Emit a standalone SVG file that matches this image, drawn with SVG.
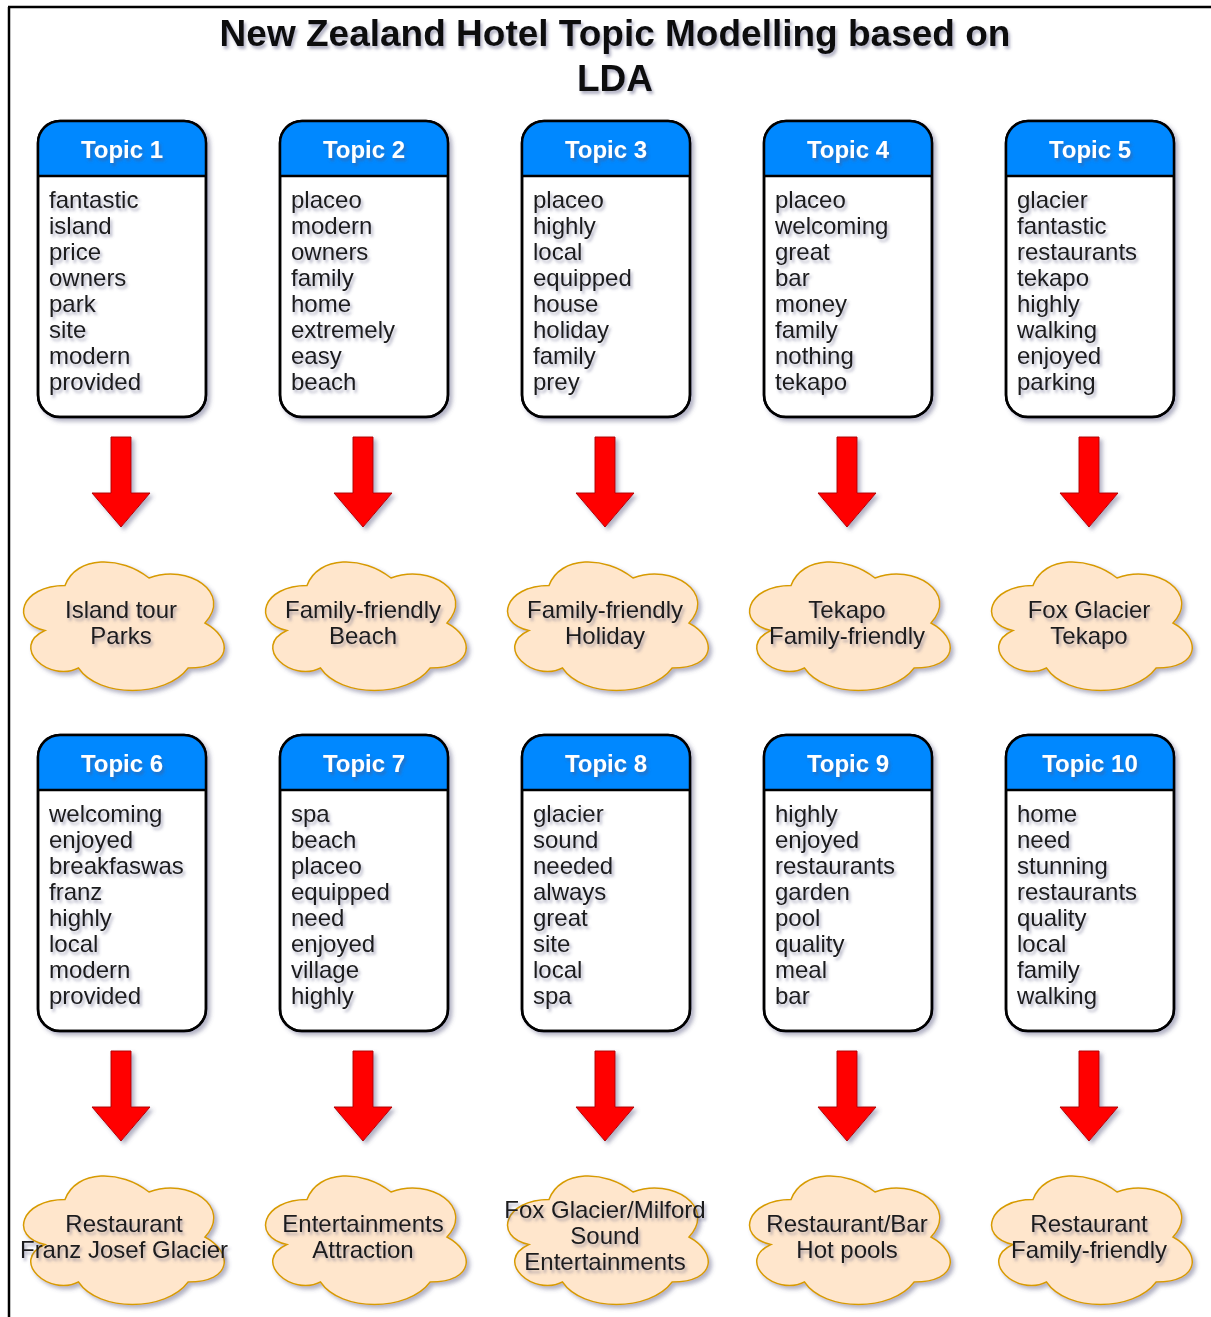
<svg xmlns="http://www.w3.org/2000/svg" xmlns:xlink="http://www.w3.org/1999/xlink" width="1211" height="1317" viewBox="0 0 1211 1317">
<style>
text{font-family:"Liberation Sans",Arial,sans-serif}
.title{font-size:37px;font-weight:bold;fill:#111;text-anchor:middle}
.hdr{font-size:24px;font-weight:bold;fill:#fff;text-anchor:middle}
.w{font-size:24px;fill:#1a1a1a}
.ct{font-size:24px;fill:#1a1a1a;text-anchor:middle}
.box{fill:#fff;stroke:#000;stroke-width:2.5}
.head{fill:#0088ff}
.sep{stroke:#000;stroke-width:2.5}
.cloud{fill:#ffe6cc;stroke:#d79b00;stroke-width:1.5}
.arrow{fill:#ff0000;stroke:#b20000;stroke-width:1}
.sh{filter:url(#shadow)}
.tsh{filter:url(#tshadow)}
</style>
<defs>
<filter id="shadow" x="-20%" y="-20%" width="140%" height="140%">
<feDropShadow dx="3" dy="3" stdDeviation="2" flood-color="#55557a" flood-opacity="0.45"/>
</filter>
<filter id="tshadow" x="-10%" y="-30%" width="120%" height="160%">
<feDropShadow dx="2" dy="3" stdDeviation="1.5" flood-color="#55557a" flood-opacity="0.45"/>
</filter>
<path id="cloudShape" d="M -56 -37.5 C -100.8 -37.5 -112 0 -76.16 7.5 C -112 24 -71.68 60 -42.56 45 C -22.4 75 44.8 75 67.2 45 C 112 45 112 15 84 0 C 112 -30 67.2 -60 28 -45 C 0 -67.5 -44.8 -67.5 -56 -37.5 Z"/>
<g id="boxShape">
<rect class="box" x="0" y="0" width="168" height="296" rx="22" ry="22"/>
<path class="head" d="M0 55 V22 A22 22 0 0 1 22 0 H146 A22 22 0 0 1 168 22 V55 Z"/>
<rect x="0" y="0" width="168" height="296" rx="22" ry="22" fill="none" stroke="#000" stroke-width="2.5"/>
<line class="sep" x1="0" y1="55" x2="168" y2="55"/>
</g>
</defs>

<g id="frame">
<line x1="9" y1="7" x2="9" y2="1317" stroke="#000" stroke-width="2.5"/>
<line x1="8" y1="7" x2="1211" y2="7" stroke="#000" stroke-width="2.5"/>
</g>

<g id="title" class="tsh">
<text class="title" x="615" y="46">New Zealand Hotel Topic Modelling based on</text>
<text class="title" x="615" y="91">LDA</text>
</g>

<!-- Row 1 topics -->
<g id="topic1" transform="translate(38,121)">
<use href="#boxShape" class="sh"/>
<g class="tsh"><text class="hdr" x="84" y="37">Topic 1</text>
<text class="w" x="11" y="87">fantastic<tspan x="11" dy="26">island</tspan><tspan x="11" dy="26">price</tspan><tspan x="11" dy="26">owners</tspan><tspan x="11" dy="26">park</tspan><tspan x="11" dy="26">site</tspan><tspan x="11" dy="26">modern</tspan><tspan x="11" dy="26">provided</tspan></text></g>
</g>
<g id="topic2" transform="translate(280,121)">
<use href="#boxShape" class="sh"/>
<g class="tsh"><text class="hdr" x="84" y="37">Topic 2</text>
<text class="w" x="11" y="87">placeo<tspan x="11" dy="26">modern</tspan><tspan x="11" dy="26">owners</tspan><tspan x="11" dy="26">family</tspan><tspan x="11" dy="26">home</tspan><tspan x="11" dy="26">extremely</tspan><tspan x="11" dy="26">easy</tspan><tspan x="11" dy="26">beach</tspan></text></g>
</g>
<g id="topic3" transform="translate(522,121)">
<use href="#boxShape" class="sh"/>
<g class="tsh"><text class="hdr" x="84" y="37">Topic 3</text>
<text class="w" x="11" y="87">placeo<tspan x="11" dy="26">highly</tspan><tspan x="11" dy="26">local</tspan><tspan x="11" dy="26">equipped</tspan><tspan x="11" dy="26">house</tspan><tspan x="11" dy="26">holiday</tspan><tspan x="11" dy="26">family</tspan><tspan x="11" dy="26">prey</tspan></text></g>
</g>
<g id="topic4" transform="translate(764,121)">
<use href="#boxShape" class="sh"/>
<g class="tsh"><text class="hdr" x="84" y="37">Topic 4</text>
<text class="w" x="11" y="87">placeo<tspan x="11" dy="26">welcoming</tspan><tspan x="11" dy="26">great</tspan><tspan x="11" dy="26">bar</tspan><tspan x="11" dy="26">money</tspan><tspan x="11" dy="26">family</tspan><tspan x="11" dy="26">nothing</tspan><tspan x="11" dy="26">tekapo</tspan></text></g>
</g>
<g id="topic5" transform="translate(1006,121)">
<use href="#boxShape" class="sh"/>
<g class="tsh"><text class="hdr" x="84" y="37">Topic 5</text>
<text class="w" x="11" y="87">glacier<tspan x="11" dy="26">fantastic</tspan><tspan x="11" dy="26">restaurants</tspan><tspan x="11" dy="26">tekapo</tspan><tspan x="11" dy="26">highly</tspan><tspan x="11" dy="26">walking</tspan><tspan x="11" dy="26">enjoyed</tspan><tspan x="11" dy="26">parking</tspan></text></g>
</g>

<!-- Row 2 topics -->
<g id="topic6" transform="translate(38,735)">
<use href="#boxShape" class="sh"/>
<g class="tsh"><text class="hdr" x="84" y="37">Topic 6</text>
<text class="w" x="11" y="87">welcoming<tspan x="11" dy="26">enjoyed</tspan><tspan x="11" dy="26">breakfaswas</tspan><tspan x="11" dy="26">franz</tspan><tspan x="11" dy="26">highly</tspan><tspan x="11" dy="26">local</tspan><tspan x="11" dy="26">modern</tspan><tspan x="11" dy="26">provided</tspan></text></g>
</g>
<g id="topic7" transform="translate(280,735)">
<use href="#boxShape" class="sh"/>
<g class="tsh"><text class="hdr" x="84" y="37">Topic 7</text>
<text class="w" x="11" y="87">spa<tspan x="11" dy="26">beach</tspan><tspan x="11" dy="26">placeo</tspan><tspan x="11" dy="26">equipped</tspan><tspan x="11" dy="26">need</tspan><tspan x="11" dy="26">enjoyed</tspan><tspan x="11" dy="26">village</tspan><tspan x="11" dy="26">highly</tspan></text></g>
</g>
<g id="topic8" transform="translate(522,735)">
<use href="#boxShape" class="sh"/>
<g class="tsh"><text class="hdr" x="84" y="37">Topic 8</text>
<text class="w" x="11" y="87">glacier<tspan x="11" dy="26">sound</tspan><tspan x="11" dy="26">needed</tspan><tspan x="11" dy="26">always</tspan><tspan x="11" dy="26">great</tspan><tspan x="11" dy="26">site</tspan><tspan x="11" dy="26">local</tspan><tspan x="11" dy="26">spa</tspan></text></g>
</g>
<g id="topic9" transform="translate(764,735)">
<use href="#boxShape" class="sh"/>
<g class="tsh"><text class="hdr" x="84" y="37">Topic 9</text>
<text class="w" x="11" y="87">highly<tspan x="11" dy="26">enjoyed</tspan><tspan x="11" dy="26">restaurants</tspan><tspan x="11" dy="26">garden</tspan><tspan x="11" dy="26">pool</tspan><tspan x="11" dy="26">quality</tspan><tspan x="11" dy="26">meal</tspan><tspan x="11" dy="26">bar</tspan></text></g>
</g>
<g id="topic10" transform="translate(1006,735)">
<use href="#boxShape" class="sh"/>
<g class="tsh"><text class="hdr" x="84" y="37">Topic 10</text>
<text class="w" x="11" y="87">home<tspan x="11" dy="26">need</tspan><tspan x="11" dy="26">stunning</tspan><tspan x="11" dy="26">restaurants</tspan><tspan x="11" dy="26">quality</tspan><tspan x="11" dy="26">local</tspan><tspan x="11" dy="26">family</tspan><tspan x="11" dy="26">walking</tspan></text></g>
</g>

<!-- Connectors (block arrows) -->
<g id="connectors" class="sh">
<path class="arrow" d="M111 437 H131 V493 H150 L121 527 L92 493 H111 Z"/>
<path class="arrow" transform="translate(242,0)" d="M111 437 H131 V493 H150 L121 527 L92 493 H111 Z"/>
<path class="arrow" transform="translate(484,0)" d="M111 437 H131 V493 H150 L121 527 L92 493 H111 Z"/>
<path class="arrow" transform="translate(726,0)" d="M111 437 H131 V493 H150 L121 527 L92 493 H111 Z"/>
<path class="arrow" transform="translate(968,0)" d="M111 437 H131 V493 H150 L121 527 L92 493 H111 Z"/>
<path class="arrow" transform="translate(0,614)" d="M111 437 H131 V493 H150 L121 527 L92 493 H111 Z"/>
<path class="arrow" transform="translate(242,614)" d="M111 437 H131 V493 H150 L121 527 L92 493 H111 Z"/>
<path class="arrow" transform="translate(484,614)" d="M111 437 H131 V493 H150 L121 527 L92 493 H111 Z"/>
<path class="arrow" transform="translate(726,614)" d="M111 437 H131 V493 H150 L121 527 L92 493 H111 Z"/>
<path class="arrow" transform="translate(968,614)" d="M111 437 H131 V493 H150 L121 527 L92 493 H111 Z"/>
</g>

<!-- Row 1 clouds -->
<g id="cloud1" transform="translate(121,623)">
<use href="#cloudShape" class="cloud sh"/>
<g class="tsh"><text class="ct" x="0" y="-5">Island tour</text><text class="ct" x="0" y="21">Parks</text></g>
</g>
<g id="cloud2" transform="translate(363,623)">
<use href="#cloudShape" class="cloud sh"/>
<g class="tsh"><text class="ct" x="0" y="-5">Family-friendly</text><text class="ct" x="0" y="21">Beach</text></g>
</g>
<g id="cloud3" transform="translate(605,623)">
<use href="#cloudShape" class="cloud sh"/>
<g class="tsh"><text class="ct" x="0" y="-5">Family-friendly</text><text class="ct" x="0" y="21">Holiday</text></g>
</g>
<g id="cloud4" transform="translate(847,623)">
<use href="#cloudShape" class="cloud sh"/>
<g class="tsh"><text class="ct" x="0" y="-5">Tekapo</text><text class="ct" x="0" y="21">Family-friendly</text></g>
</g>
<g id="cloud5" transform="translate(1089,623)">
<use href="#cloudShape" class="cloud sh"/>
<g class="tsh"><text class="ct" x="0" y="-5">Fox Glacier</text><text class="ct" x="0" y="21">Tekapo</text></g>
</g>

<!-- Row 2 clouds -->
<g id="cloud6" transform="translate(121,1237)">
<use href="#cloudShape" class="cloud sh"/>
<g class="tsh"><text class="ct" x="3" y="-5">Restaurant</text><text class="ct" x="3" y="21">Franz Josef Glacier</text></g>
</g>
<g id="cloud7" transform="translate(363,1237)">
<use href="#cloudShape" class="cloud sh"/>
<g class="tsh"><text class="ct" x="0" y="-5">Entertainments</text><text class="ct" x="0" y="21">Attraction</text></g>
</g>
<g id="cloud8" transform="translate(605,1237)">
<use href="#cloudShape" class="cloud sh"/>
<g class="tsh"><text class="ct" x="0" y="-19">Fox Glacier/Milford</text><text class="ct" x="0" y="7">Sound</text><text class="ct" x="0" y="33">Entertainments</text></g>
</g>
<g id="cloud9" transform="translate(847,1237)">
<use href="#cloudShape" class="cloud sh"/>
<g class="tsh"><text class="ct" x="0" y="-5">Restaurant/Bar</text><text class="ct" x="0" y="21">Hot pools</text></g>
</g>
<g id="cloud10" transform="translate(1089,1237)">
<use href="#cloudShape" class="cloud sh"/>
<g class="tsh"><text class="ct" x="0" y="-5">Restaurant</text><text class="ct" x="0" y="21">Family-friendly</text></g>
</g>
</svg>
